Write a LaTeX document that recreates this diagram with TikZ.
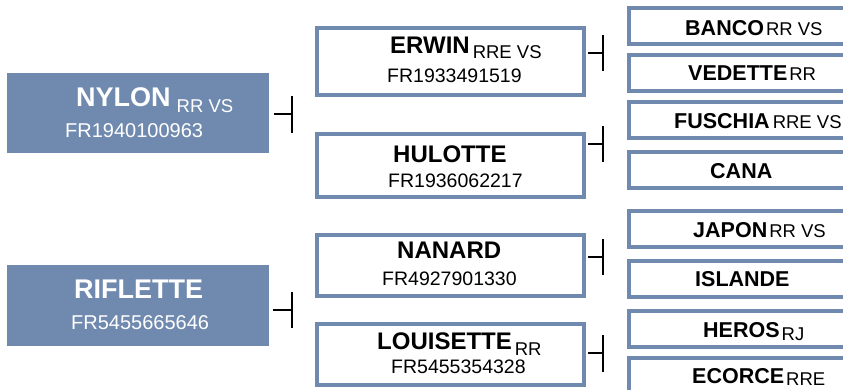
\documentclass[tikz,border=0pt]{standalone}
\usepackage{fontspec}
\setmainfont{Liberation Sans}
\usepackage{tikz}
\definecolor{steel}{RGB}{112,138,175}
\definecolor{white}{RGB}{255,255,255}
\newcommand{\eldername}[1]{{\fontsize{27}{27}\selectfont\bfseries #1}}
\newcommand{\parentname}[1]{{\fontsize{24}{24}\selectfont\bfseries #1}}
\newcommand{\grandname}[1]{{\fontsize{21.5}{21.5}\selectfont\bfseries #1}}
\newcommand{\regnum}[2][19.5]{{\fontsize{#1}{#1}\selectfont #2}}
\newcommand{\mention}[2][0pt]{\raisebox{-#1}{\fontsize{18.5}{18.5}\selectfont #2}}
\tikzset{
	sire/.style={rectangle, fill=steel, inner sep=0pt, minimum width=262pt},
	midbox/.style={rectangle, draw=steel, line width=4pt, fill=white, inner sep=0pt, minimum width=267pt},
	farbox/.style={rectangle, draw=steel, line width=4pt, fill=white, inner sep=0pt, minimum width=300pt, minimum height=36pt},
	txt/.style={anchor=base west, inner sep=0pt},
	tick/.style={line width=2pt, black}
}

\begin{document}
\begin{tikzpicture}[x=1pt, y=-1pt]
	\useasboundingbox (0,0) rectangle (843,389);
	\clip (0,0) rectangle (843,389);

	% parents
	\node[sire, minimum height=80pt] (nylon) at (138,113) {};
	\node[sire, minimum height=81pt] (riflette) at (138,305.5) {};
	\node[txt, white] (nylon-t) at (76,106) {\eldername{NYLON}\hspace{6pt}\mention[6pt]{RR VS}};
	\node[txt, white] (nylon-n) at (65,137) {\regnum[20]{FR1940100963}};
	\node[txt, white] (riflette-t) at (74,298) {\eldername{RIFLETTE}};
	\node[txt, white] (riflette-n) at (71,329) {\regnum[20]{FR5455665646}};

	% grandparents
	\node[midbox, minimum height=67pt] (erwin) at (450.5,61.5) {};
	\node[midbox, minimum height=63pt] (hulotte) at (450.5,165.5) {};
	\node[midbox, minimum height=61pt] (nanard) at (450.5,265.5) {};
	\node[midbox, minimum height=61pt] (louisette) at (450.5,354.5) {};
	\node[txt] (erwin-t) at (390,53) {\parentname{ERWIN}\hspace{3pt}\mention[5pt]{RRE VS}};
	\node[txt] (erwin-n) at (387,82) {\regnum{FR1933491519}};
	\node[txt] (hulotte-t) at (393,162) {\parentname{HULOTTE}};
	\node[txt] (hulotte-n) at (388,187) {\regnum{FR1936062217}};
	\node[txt] (nanard-t) at (397,258) {\parentname{NANARD}};
	\node[txt] (nanard-n) at (382,285) {\regnum{FR4927901330}};
	\node[txt] (louisette-t) at (377,349) {\parentname{LOUISETTE}\hspace{3pt}\mention[6pt]{RR}};
	\node[txt] (louisette-n) at (391,373) {\regnum{FR5455354328}};

	% great-grandparents
	\node[farbox] (banco) at (779,26) {};
	\node[farbox] (vedette) at (779,73) {};
	\node[farbox] (fuschia) at (779,120) {};
	\node[farbox] (cana) at (779,170) {};
	\node[farbox] (japon) at (779,229) {};
	\node[farbox] (islande) at (779,279) {};
	\node[farbox] (heros) at (779,328.5) {};
	\node[farbox] (ecorce) at (779,376) {};
	\node[txt] (banco-t) at (685,35) {\grandname{BANCO}\hspace{2pt}\mention{RR VS}};
	\node[txt] (vedette-t) at (688,80) {\grandname{VEDETTE}\hspace{2pt}\mention{RR}};
	\node[txt] (fuschia-t) at (674,128) {\grandname{FUSCHIA}\hspace{3pt}\mention{RRE VS}};
	\node[txt] (cana-t) at (710,178) {\grandname{CANA}};
	\node[txt] (japon-t) at (693,237) {\grandname{JAPON}\hspace{2pt}\mention{RR VS}};
	\node[txt] (islande-t) at (695,286) {\grandname{ISLANDE}};
	\node[txt] (heros-t) at (703,337) {\grandname{HEROS}\hspace{2pt}\mention[3pt]{RJ}};
	\node[txt] (ecorce-t) at (692,383) {\grandname{ECORCE}\hspace{2pt}\mention[2pt]{RRE}};

	% brackets
	\coordinate (nylon-bar) at (292,114);
	\coordinate (riflette-bar) at (292,310);
	\coordinate (erwin-bar) at (603,53);
	\coordinate (hulotte-bar) at (603,144);
	\coordinate (nanard-bar) at (603,257);
	\coordinate (louisette-bar) at (603,353);
	\draw[tick] ([xshift=5pt]nylon.east |- nylon-bar) -- (nylon-bar);
	\draw[tick] ([yshift=18pt]nylon-bar) -- ([yshift=-19pt]nylon-bar);
	\draw[tick] ([xshift=4pt]riflette.east |- riflette-bar) -- (riflette-bar);
	\draw[tick] ([yshift=18pt]riflette-bar) -- ([yshift=-18pt]riflette-bar);
	\draw[tick] ([xshift=2pt]erwin.east |- erwin-bar) -- (erwin-bar);
	\draw[tick] ([yshift=18pt]erwin-bar) -- ([yshift=-18pt]erwin-bar);
	\draw[tick] ([xshift=2pt]hulotte.east |- hulotte-bar) -- (hulotte-bar);
	\draw[tick] ([yshift=18pt]hulotte-bar) -- ([yshift=-18pt]hulotte-bar);
	\draw[tick] ([xshift=2pt]nanard.east |- nanard-bar) -- (nanard-bar);
	\draw[tick] ([yshift=18pt]nanard-bar) -- ([yshift=-18pt]nanard-bar);
	\draw[tick] ([xshift=2pt]louisette.east |- louisette-bar) -- (louisette-bar);
	\draw[tick] ([yshift=18pt]louisette-bar) -- ([yshift=-19pt]louisette-bar);
\end{tikzpicture}
\end{document}
